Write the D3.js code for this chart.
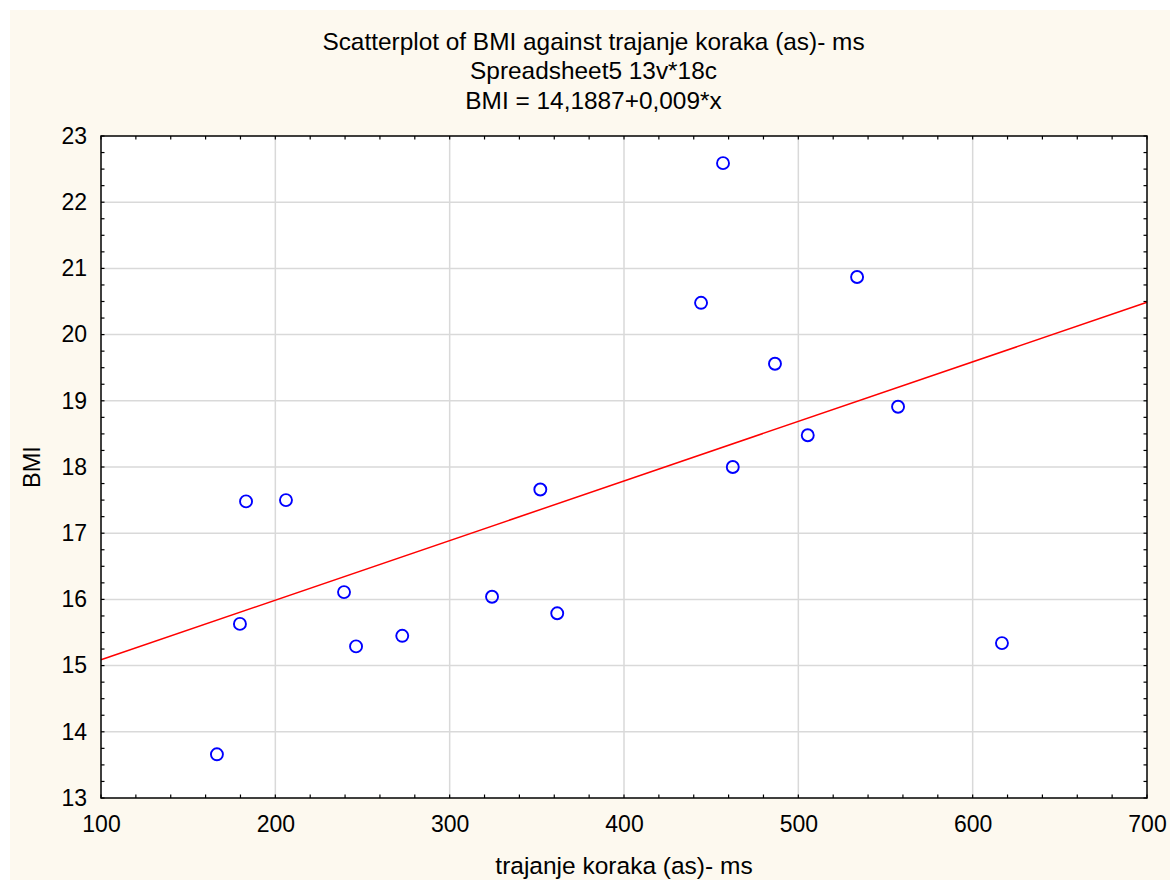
<!DOCTYPE html>
<html><head><meta charset="utf-8">
<script src="https://cdn.jsdelivr.net/npm/d3@7"></script>
<style>
html,body{margin:0;padding:0;background:#fff;}
svg{display:block;font-family:"Liberation Sans",Arial,sans-serif;}
</style></head>
<body>
<svg id="chart" width="1170" height="880"></svg>
<script>
const titleLines = ["Scatterplot of BMI against trajanje koraka (as)- ms", "Spreadsheet5 13v*18c", "BMI = 14,1887+0,009*x"];
const xLabel = "trajanje koraka (as)- ms";
const yLabel = "BMI";
const xTicks = [100, 200, 300, 400, 500, 600, 700];
const yTicks = [13, 14, 15, 16, 17, 18, 19, 20, 21, 22, 23];
const trajanje = [166.5, 179.7, 183.2, 206.1, 239.4, 246.3, 272.8, 324.3, 352.0, 361.7, 444.2, 456.8, 462.4, 486.6, 505.4, 533.7, 557.2, 616.8];
const bmi      = [13.66, 15.63, 17.48, 17.50, 16.11, 15.29, 15.45, 16.04, 17.66, 15.79, 20.48, 22.59, 18.00, 19.56, 18.48, 20.87, 18.91, 15.34];
const intercept = 14.1887;
const slope = 0.009;

const svg = d3.select("#chart");
svg.append("rect").attr("x",10).attr("y",10).attr("width",1160).attr("height",870).attr("fill","#fdf9ef");

const L=101, R=1147, T=136, B=798;
const x = d3.scaleLinear().domain([100,700]).range([L,R]);
const y = d3.scaleLinear().domain([13,23]).range([B,T]);

svg.append("rect").attr("x",L).attr("y",T).attr("width",R-L).attr("height",B-T).attr("fill","#fff");

// grid
const g = svg.append("g");
g.selectAll(".gx").data(xTicks.slice(1,-1)).join("line")
  .attr("x1",d=>x(d)).attr("x2",d=>x(d)).attr("y1",T).attr("y2",B)
  .attr("stroke","#d9d9d9").attr("stroke-width",1.5);
g.selectAll(".gy").data(yTicks.slice(1,-1)).join("line")
  .attr("y1",d=>y(d)).attr("y2",d=>y(d)).attr("x1",L).attr("x2",R)
  .attr("stroke","#d9d9d9").attr("stroke-width",1.5);

// minor ticks
const xMinor = d3.range(100,700.01,20);
const yMinor = d3.range(13,23.01,0.25);
const axG = svg.append("g").attr("stroke","#000").attr("stroke-width",1.2);
[["b",B,1],["t",T,-1]].forEach(([k,yy,s])=>{
  axG.append("g").selectAll("line").data(xMinor).join("line")
    .attr("x1",d=>x(d)).attr("x2",d=>x(d)).attr("y1",yy).attr("y2",yy-s*3.5);
});
[["l",L,1],["r",R,-1]].forEach(([k,xx,s])=>{
  axG.append("g").selectAll("line").data(yMinor).join("line")
    .attr("y1",d=>y(d)).attr("y2",d=>y(d)).attr("x1",xx).attr("x2",xx+s*3.5);
});

// regression line
svg.append("line")
  .attr("x1",x(100)).attr("y1",y(intercept+slope*100))
  .attr("x2",x(700)).attr("y2",y(intercept+slope*700))
  .attr("stroke","#ff0000").attr("stroke-width",1.5);

// frame
svg.append("rect").attr("x",L).attr("y",T).attr("width",R-L).attr("height",B-T)
  .attr("fill","none").attr("stroke","#000").attr("stroke-width",1.5);

// points
svg.append("g").selectAll("circle").data(trajanje.map((v,i)=>[v,bmi[i]])).join("circle")
  .attr("cx",d=>x(d[0])).attr("cy",d=>y(d[1])).attr("r",6)
  .attr("fill","none").attr("stroke","#0000ff").attr("stroke-width",1.9);

// axes labels via d3 axis
const xAxis = d3.axisBottom(x).tickValues(xTicks).tickSize(0).tickPadding(18);
const xa = svg.append("g").attr("transform",`translate(0,${B})`).call(xAxis);
xa.select(".domain").remove();
xa.selectAll("text").attr("font-size",23).attr("fill","#000").attr("font-family","Liberation Sans, Arial, sans-serif");

const yAxis = d3.axisLeft(y).tickValues(yTicks).tickSize(0).tickPadding(14);
const ya = svg.append("g").attr("transform",`translate(${L},0)`).call(yAxis);
ya.select(".domain").remove();
ya.selectAll("text").attr("font-size",23).attr("fill","#000").attr("font-family","Liberation Sans, Arial, sans-serif");

// titles
const tb = [50,79,109];
svg.append("g").selectAll("text").data(titleLines).join("text")
  .attr("x",593.5).attr("y",(d,i)=>tb[i]).attr("text-anchor","middle")
  .attr("font-size",24.4).attr("fill","#000").text(d=>d);

svg.append("text").attr("x",(L+R)/2).attr("y",874).attr("text-anchor","middle")
  .attr("font-size",24.5).attr("fill","#000").text(xLabel);
svg.append("text").attr("transform","translate(40,467) rotate(-90)").attr("text-anchor","middle")
  .attr("font-size",23.5).attr("fill","#000").text(yLabel);
</script>
</body></html>
